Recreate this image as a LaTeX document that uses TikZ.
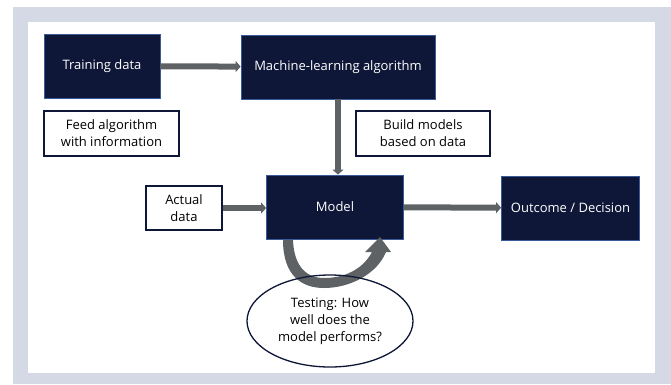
\documentclass[tikz,border=0pt]{standalone}
\usepackage{fontspec}
\setmainfont{Open Sans}
\usepackage{tikz}
\usetikzlibrary{arrows.meta,shapes.geometric}
\definecolor{navy}{HTML}{0E1737}
\definecolor{edge}{HTML}{3A5A9C}
\definecolor{arrowgrey}{HTML}{5E6264}
\definecolor{frame}{HTML}{D5D8E5}
\tikzset{
  darkbox/.style={fill=navy, draw=edge, line width=0.8pt, text=white, font=\fontsize{13}{16}\selectfont, align=center, inner sep=0pt},
  notebox/.style={fill=white, draw=navy, line width=1.5pt, text=black, font=\fontsize{13}{17}\selectfont, align=center, inner sep=0pt},
  flow/.style={draw=arrowgrey, line width=6pt, -{Triangle[width=11pt,length=5pt]}}
}

\begin{document}
\begin{tikzpicture}[x=1pt, y=-1pt]
  % frame and panel
  \useasboundingbox (0,0) rectangle (671,384);
  \fill[frame] (13,7) rectangle (671,384);
  \fill[white] (28,22) rectangle (655,373);

  % boxes
  \node[darkbox, minimum width=116pt, minimum height=64pt] (train) at (102,66) {Training data};
  \node[darkbox, minimum width=194pt, minimum height=64pt] (algo) at (338,67) {Machine-learning algorithm};
  \node[notebox, minimum width=135pt, minimum height=45pt] (feed) at (111.5,133.5) {Feed algorithm\\with information};
  \node[notebox, minimum width=134pt, minimum height=45pt] (build) at (423,133.5) {Build models\\based on data};
  \node[notebox, minimum width=76pt, minimum height=44pt] (actual) at (184,208) {Actual\\data};
  \node[darkbox, minimum width=137pt, minimum height=64pt] (model) at (335,207) {Model};
  \node[darkbox, minimum width=138pt, minimum height=64pt] (outcome) at (570.5,208) {Outcome / Decision};

  % straight arrows
  \draw[flow] (train) -- (algo);
  \draw[flow] (algo.south) -- (algo.south |- model.north);
  \draw[flow] (actual) -- (actual -| model.west);
  \draw[flow] (model) -- (outcome);

  % testing loop
  \fill[arrowgrey] (283,240) .. controls (283,276) and (302,288) .. (324,288)
    .. controls (350,288) and (377,274) .. (386,252)
    -- (391,252) -- (380,237) -- (365,252) -- (372,252)
    .. controls (363,269) and (345,278) .. (324,278)
    .. controls (306,278) and (294,266) .. (293,240) -- cycle;
  \node[ellipse, draw=navy, line width=1.3pt, minimum width=166pt, minimum height=92pt,
    align=center, font=\fontsize{13}{17}\selectfont] (test) at (330,321)
    {Testing: How\\well does the\\model performs?};
\end{tikzpicture}
\end{document}
